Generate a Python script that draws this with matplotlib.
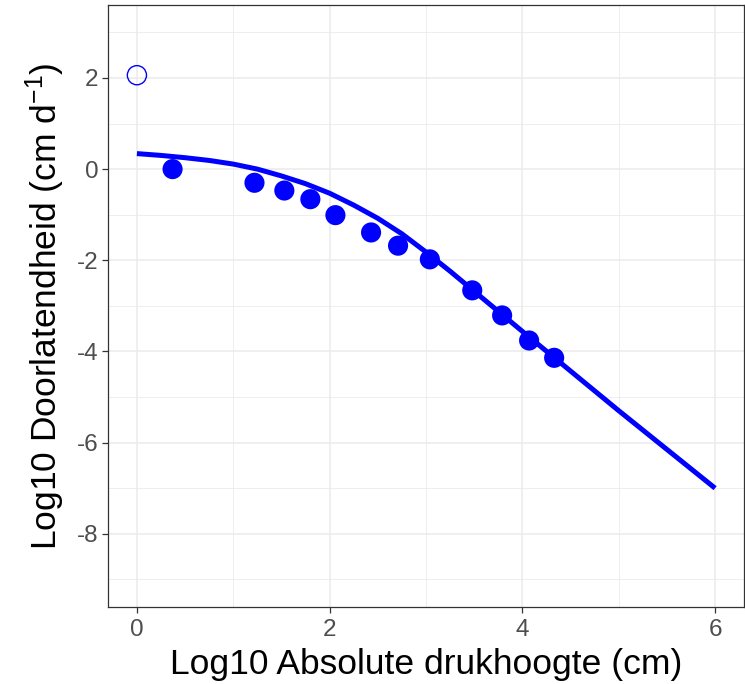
import matplotlib
matplotlib.use("Agg")
import matplotlib.pyplot as plt
from matplotlib.ticker import MultipleLocator

plt.rcParams['font.family'] = ['Liberation Sans', 'DejaVu Sans']
plt.rcParams['mathtext.fontset'] = 'custom'
plt.rcParams['mathtext.rm'] = 'Liberation Sans'
plt.rcParams['mathtext.it'] = 'Liberation Sans:italic'
plt.rcParams['mathtext.bf'] = 'Liberation Sans:bold'

# Measured data (filled points)
obs_logh = [0.37, 1.22, 1.53, 1.80, 2.06, 2.43, 2.71, 3.04, 3.48, 3.79, 4.07, 4.33]
obs_logk = [0.00, -0.30, -0.47, -0.66, -1.01, -1.39, -1.68, -1.98, -2.66, -3.21, -3.76, -4.14]

# Saturated conductivity point (open circle)
sat_logh = [0.0]
sat_logk = [2.06]

# Fitted curve
fit_logh = [0.0, 0.25, 0.5, 0.75, 1.0, 1.25, 1.5, 1.75, 2.0, 2.25, 2.5, 2.75, 3.0,
            3.25, 3.5, 4.0, 4.5, 5.0, 5.5, 6.0]
fit_logk = [0.34, 0.30, 0.25, 0.19, 0.11, 0.00, -0.15, -0.32, -0.53, -0.79, -1.08, -1.42, -1.82,
            -2.24, -2.68, -3.56, -4.43, -5.30, -6.15, -7.00]

xticks = [0, 2, 4, 6]
yticks = [-8, -6, -4, -2, 0, 2]

fig = plt.figure(figsize=(7.45, 6.84), dpi=100)
ax = fig.add_axes([108/745, (684-606.7)/684, (744-108)/745, (606.7-5)/684])

ax.set_xlim(-0.3, 6.3)
ax.set_ylim(-9.6, 3.6)
ax.set_xticks(xticks)
ax.set_yticks(yticks)
ax.set_xticklabels([str(t) for t in xticks])
ax.set_yticklabels([str(t) for t in yticks])
ax.xaxis.set_minor_locator(MultipleLocator(1))
ax.yaxis.set_minor_locator(MultipleLocator(1))

ax.grid(True, which='major', color='#EBEBEB', linewidth=1.1)
ax.grid(True, which='minor', color='#EBEBEB', linewidth=0.6)
ax.set_axisbelow(True)

for s in ax.spines.values():
    s.set_color('#333333')
    s.set_linewidth(0.9)

ax.tick_params(axis='both', which='major', length=4, width=0.9, color='#333333',
               labelsize=17.5, labelcolor='#4D4D4D', pad=3)
ax.tick_params(axis='x', which='major', pad=5)
ax.tick_params(axis='both', which='minor', length=0)

ax.plot(fit_logh, fit_logk, color='#0000FF', linewidth=3.6, solid_capstyle='butt',
        solid_joinstyle='round', zorder=3)
ax.scatter(obs_logh, obs_logk, s=210, color='#0000FF', edgecolors='none', zorder=4)
ax.scatter(sat_logh, sat_logk, s=190, facecolors='none', edgecolors='#0000FF', linewidths=1.0, zorder=4)

ax.set_xlabel('Log10 Absolute drukhoogte (cm)', fontsize=25.5, color='black', labelpad=5)
ax.set_ylabel('Log10 Doorlatendheid (cm d$^{-1}$)', fontsize=25.5, color='black', labelpad=7)

fig.savefig('out.png', dpi=100)
